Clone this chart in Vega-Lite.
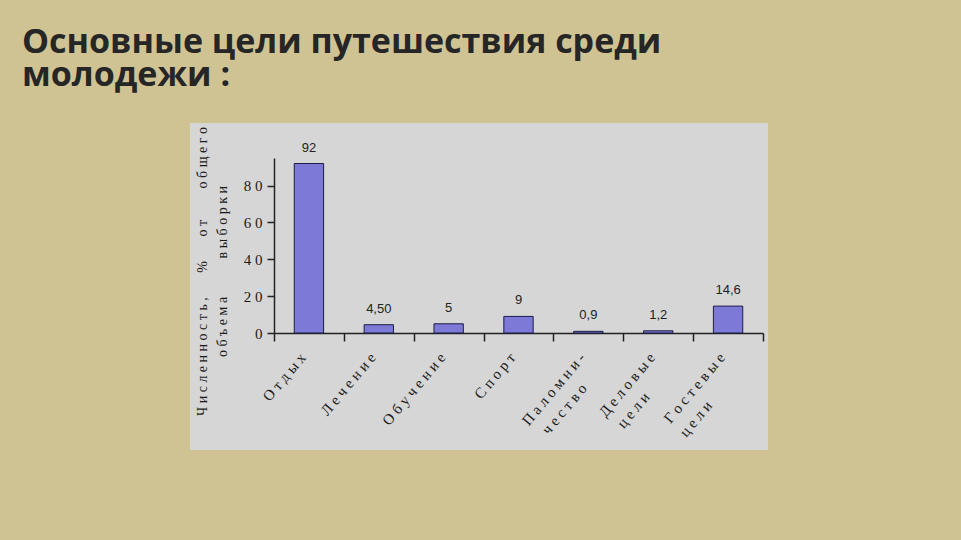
{
  "$schema": "https://vega.github.io/schema/vega-lite/v6.json",
  "width": 578,
  "height": 327,
  "autosize": {"type": "none"},
  "padding": {"left": 190, "top": 123, "right": 193, "bottom": 90},
  "background": "#d0c393",
  "title": {
    "text": ["Основные цели путешествия среди", "молодежи :"],
    "anchor": "start",
    "frame": "group",
    "dx": -168,
    "dy": 4,
    "offset": 0,
    "baseline": "bottom",
    "font": "Open Sans",
    "fontSize": 34,
    "fontWeight": "bold",
    "color": "#262626",
    "lineHeight": 33
  },
  "config": {
    "view": {"fill": "#d6d6d6", "stroke": null},
    "axis": {"grid": false}
  },
  "data": {
    "values": [
      {"goal": "Отдых", "value": 92, "label": "92"},
      {"goal": "Лечение", "value": 4.5, "label": "4,50"},
      {"goal": "Обучение", "value": 5, "label": "5"},
      {"goal": "Спорт", "value": 9, "label": "9"},
      {"goal": "Паломни-\nчество", "value": 0.9, "label": "0,9"},
      {"goal": "Деловые\nцели", "value": 1.2, "label": "1,2"},
      {"goal": "Гостевые\nцели", "value": 14.6, "label": "14,6"}
    ]
  },
  "layer": [
    {
      "mark": {"type": "bar", "width": {"band": 0.42}, "fill": "#7d79d6", "stroke": "#1c1c48", "strokeWidth": 1},
      "encoding": {
        "x": {
          "field": "goal",
          "type": "nominal",
          "sort": null,
          "scale": {"range": [84, 573], "paddingInner": 0, "paddingOuter": 0},
          "axis": {
            "title": null,
            "offset": -117,
            "ticks": true,
            "tickBand": "extent",
            "tickSize": 8,
            "tickColor": "#222222",
            "tickWidth": 1.5,
            "domain": true,
            "domainColor": "#222222",
            "domainWidth": 1.5,
            "labelAngle": -50,
            "labelAlign": "right",
            "labelBaseline": "top",
            "labelPadding": 9,
            "labelOffset": -12,
            "labelFont": "Liberation Serif",
            "labelFontSize": 15,
            "labelColor": "#1a1a1a",
            "labelLimit": 300,
            "labelLineHeight": 21,
            "labelExpr": "length(split(datum.label,'\\n')) > 1 ? [replace(split(datum.label,'\\n')[0], regexp('(.)(?=.)','g'), '$1 '), replace(split(datum.label,'\\n')[1], regexp('(.)(?=.)','g'), '$1 ') + slice('\u00a0\u00a0\u00a0\u00a0\u00a0\u00a0\u00a0\u00a0\u00a0\u00a0\u00a0\u00a0\u00a0\u00a0\u00a0\u00a0\u00a0\u00a0\u00a0\u00a0\u00a0\u00a0\u00a0\u00a0', 0, 3*(length(split(datum.label,'\\n')[0]) - length(split(datum.label,'\\n')[1]))) + '\u200b'] : replace(datum.label, regexp('(.)(?=.)','g'), '$1 ')"
          }
        },
        "y": {
          "field": "value",
          "type": "quantitative",
          "scale": {"domain": [0, 95], "range": [210, 35], "nice": false, "zero": true},
          "axis": {
            "offset": -84,
            "values": [0, 20, 40, 60, 80],
            "tickSize": 7,
            "tickColor": "#222222",
            "tickWidth": 1.5,
            "domainColor": "#222222",
            "domainWidth": 1.5,
            "labelPadding": 5,
            "labelFont": "Liberation Serif",
            "labelFontSize": 15,
            "labelColor": "#1a1a1a",
            "labelExpr": "length(datum.label) > 1 ? slice(datum.label,0,1) + ' ' + slice(datum.label,1) : datum.label",
            "title": ["Ч и с л е н н о с т ь ,\u00a0\u00a0\u00a0\u00a0\u00a0\u00a0\u00a0%\u00a0\u00a0\u00a0\u00a0\u00a0\u00a0\u00a0о т\u00a0\u00a0\u00a0\u00a0\u00a0\u00a0\u00a0\u00a0\u00a0о б щ е г о", "о б ъ е м а\u00a0\u00a0\u00a0\u00a0\u00a0\u00a0\u00a0\u00a0\u00a0\u00a0\u00a0в ы б о р к и"],
            "titleFont": "Liberation Serif",
            "titleFontSize": 14,
            "titleFontWeight": "normal",
            "titleColor": "#1a1a1a",
            "titleLineHeight": 20,
            "titleBaseline": "middle",
            "titleX": -72,
            "titleY": 148
          }
        }
      }
    },
    {
      "mark": {"type": "text", "baseline": "bottom", "dy": -9, "font": "Liberation Sans", "fontSize": 13, "color": "#222222"},
      "encoding": {
        "x": {"field": "goal", "type": "nominal", "sort": null},
        "y": {"field": "value", "type": "quantitative"},
        "text": {"field": "label"}
      }
    }
  ]
}
